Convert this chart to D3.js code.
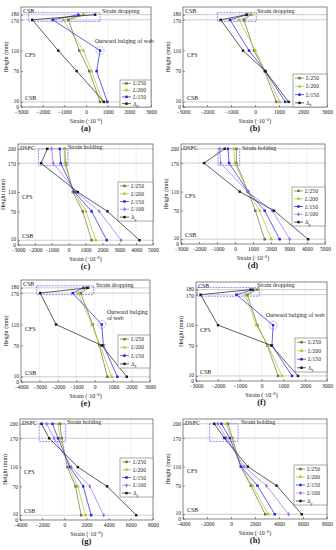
<!DOCTYPE html>
<html><head><meta charset="utf-8">
<script src="https://cdn.jsdelivr.net/npm/d3@7"></script>
<style>body{margin:0;background:#fff} text{font-family:"Liberation Serif","DejaVu Serif",serif;fill:#222}</style>
</head><body><svg id="c" width="336" height="550"></svg>
<script>
// ---------- data ----------
const heightsDrop = [10, 70, 110, 170, 180];
const heightsHold = [10, 70, 110, 170, 200];
const seriesDrop = ["L/250", "L/200", "L/150", "Δy"];
const seriesHold = ["L/250", "L/200", "L/150", "L/100", "Δy"];
const xTicksA = [-3000, -2000, -1000, 0, 1000, 2000, 3000];
const xTicksC = [-3000, -2000, -1000, 0, 1000, 2000, 3000, 4000, 5000];
const xTicksE = [-4000, -3000, -2000, -1000, 0, 1000, 2000, 3000];
const xTicksG = [-4000, -2000, 0, 2000, 4000, 6000, 8000];
const yTicksDrop = [0, 10, 70, 110, 170, 180];
const yTicksHold = [0, 10, 70, 110, 170, 200];

// strain values at heights (bottom -> top)
const a_L250 = [650, 150, -310, -815, -120];
const a_L200 = [770, 260, -120, -1050, -120];
const a_L150 = [985, 490, 650, -1540, -350];
const a_Dy   = [830, -430, -1280, -2480, 420];

const b_L250 = [890, 400, -40, -460, -180];
const b_L200 = [1030, 430, 15, -670, -125];
const b_L150 = [1260, 430, -250, -1040, -330];
const b_Dy   = [1400, 430, -500, -1430, -350];

const c_L250 = [1360, 840, 250, -175, -235];
const c_L200 = [1610, 1030, 310, -235, -270];
const c_L150 = [2260, 1360, 350, -470, -525];
const c_L100 = [3110, 1810, 450, -915, -1010];
const c_Dy   = [4200, 2300, 545, -1630, -1265];

const d_L250 = [1650, 1130, 720, 75, 75];
const d_L200 = [2020, 1370, 720, -20, -75];
const d_L150 = [2480, 1650, 720, -330, -390];
const d_L100 = [3040, 2070, 690, -800, -850];
const d_Dy   = [4060, 2170, 260, -1720, -575];

const e_L250 = [690, 250, -110, -760, -340];
const e_L200 = [920, 290, -160, -890, -470];
const e_L150 = [1230, 470, 380, -1190, -610];
const e_Dy   = [1740, 380, -2100, -2960, -400];

const f_L250 = [760, 270, -190, -650, -190];
const f_L200 = [940, 300, -240, -740, -280];
const f_L150 = [1400, 480, 530, -1150, -390];
const f_Dy   = [1670, 450, -1990, -2790, -500];

const g_L250 = [1520, 1010, 270, -240, -390];
const g_L200 = [1910, 1220, 420, -390, -570];
const g_L150 = [2420, 1700, 510, -570, -1070];
const g_L100 = [3550, 2300, 630, -925, -1600];
const g_Dy   = [6480, 3850, 1220, -1370, -2060];

const h_L250 = [2850, 1650, 800, 110, -250];
const h_L200 = [3100, 1800, 850, 30, -400];
const h_L150 = [3650, 2200, 850, -110, -800];
const h_L100 = [4800, 2950, 1100, -390, -1100];
const h_Dy   = [5900, 3800, 1400, -550, -1400];

// ---------- styles ----------
const colors = {"L/250":"#7d6a2c","L/200":"#9acd32","L/150":"#2020e8","L/100":"#a064f0","Δy":"#1a1a1a"};
const symbols = {"L/250":d3.symbolSquare,"L/200":d3.symbolTriangle,"L/150":d3.symbolSquare,"L/100":d3.symbolDiamond,"Δy":d3.symbolSquare};
const FONT = 6;
const TFONT = 5.5;

const panels = [
 {id:"a", x0:21, x1:151, y0:7, y1:107, xdom:[-3000,3000], ydom:[0,195], xt:xTicksA, yt:yTicksDrop, hs:heightsDrop, names:seriesDrop,
  vals:[a_L250,a_L200,a_L150,a_Dy], band:[170,180,10], top:"CSB", box:[-2650,650,167,184], ell:[650,110],
  leg:{x:120,y:80,w:31,h:27}, notes:[{t:"Strain dropping",dx:81,dy:6},{t:"Outward bulging of web",dx:74,dy:36}]},
 {id:"b", x0:183, x1:327, y0:7, y1:107, xdom:[-3000,3000], ydom:[0,195], xt:xTicksA, yt:yTicksDrop, hs:heightsDrop, names:seriesDrop,
  vals:[b_L250,b_L200,b_L150,b_Dy], band:[170,180,10], top:"CSB", box:[-1570,55,167,184], ell:null,
  leg:{x:293,y:74,w:34,h:33}, notes:[{t:"Strain dropping",dx:74,dy:6}]},
 {id:"c", x0:18, x1:153, y0:144, y1:245, xdom:[-3000,5000], ydom:[0,210], xt:xTicksC, yt:yTicksHold, hs:heightsHold, names:seriesHold,
  vals:[c_L250,c_L200,c_L150,c_L100,c_Dy], band:[170,200,10], top:"DSFC", box:[-1790,-40,165,200], ell:null,
  leg:{x:118,y:182,w:35,h:39}, notes:[{t:"Strain holding",dx:50,dy:5}]},
 {id:"d", x0:181, x1:325, y0:144, y1:244, xdom:[-3000,5000], ydom:[0,210], xt:xTicksC, yt:yTicksHold, hs:heightsHold, names:seriesHold,
  vals:[d_L250,d_L200,d_L150,d_L100,d_Dy], band:[170,200,10], top:"DSFC", box:[-940,260,165,200], ell:null,
  leg:{x:292,y:187,w:33,h:39}, notes:[{t:"Strain holding",dx:61,dy:6}]},
 {id:"e", x0:21, x1:150, y0:280, y1:382, xdom:[-4000,3000], ydom:[0,195], xt:xTicksE, yt:yTicksDrop, hs:heightsDrop, names:seriesDrop,
  vals:[e_L250,e_L200,e_L150,e_Dy], band:[170,180,10], top:"CSB", box:[-3150,-70,167,184], ell:[380,110],
  leg:{x:118,y:335,w:32,h:33}, notes:[{t:"Strain dropping",dx:75,dy:7},{t:"Outward bulging",dx:86,dy:34},{t:"of web",dx:86,dy:40}]},
 {id:"f", x0:196, x1:327, y0:282, y1:381, xdom:[-3000,3000], ydom:[0,195], xt:xTicksA, yt:yTicksDrop, hs:heightsDrop, names:seriesDrop,
  vals:[f_L250,f_L200,f_L150,f_Dy], band:[170,180,10], top:"CSB", box:[-2940,-100,167,184], ell:[530,110],
  leg:{x:295,y:338,w:32,h:34}, notes:[{t:"Strain dropping",dx:61,dy:5},{t:"Outward bulging of web",dx:70,dy:35}]},
 {id:"g", x0:20, x1:153, y0:419, y1:520, xdom:[-4000,8000], ydom:[0,210], xt:xTicksG, yt:yTicksHold, hs:heightsHold, names:seriesHold,
  vals:[g_L250,g_L200,g_L150,g_L100,g_Dy], band:[170,200,10], top:"DSFC", box:[-2270,120,163,200], ell:null,
  leg:{x:120,y:458,w:33,h:39}, notes:[{t:"Strain holding",dx:47,dy:5}]},
 {id:"h", x0:183, x1:327, y0:419, y1:519, xdom:[-4000,8000], ydom:[0,210], xt:xTicksG, yt:yTicksHold, hs:heightsHold, names:seriesHold,
  vals:[h_L250,h_L200,h_L150,h_L100,h_Dy], band:[170,200,10], top:"DSFC", box:[-1780,580,163,200], ell:null,
  leg:{x:294,y:465,w:33,h:40}, notes:[{t:"Strain holding",dx:58,dy:5}]}
];

// small label nudges so stacked tick labels (0/10, 170/180) stay legible
const yNudge = {0: 0, 10: -1.4, 170: 0.8, 180: -0.8};

const svg = d3.select("#c");

function legendLabel(sel, name) {
  if (name === "Δy") {
    sel.append("tspan").text("Δ");
    sel.append("tspan").attr("font-size", FONT*0.7).attr("dy", 1.5).text("y");
  } else {
    sel.append("tspan").attr("font-style","italic").text("L");
    sel.append("tspan").text(name.slice(1));
  }
}

panels.forEach(p => {
  const g = svg.append("g");
  const x = d3.scaleLinear().domain(p.xdom).range([p.x0, p.x1]);
  const y = d3.scaleLinear().domain(p.ydom).range([p.y1, p.y0]);

  // vertical dotted grid
  g.selectAll(".vg").data(p.xt.slice(1, -1)).join("line")
    .attr("x1", d => x(d)).attr("x2", d => x(d)).attr("y1", p.y0).attr("y2", p.y1)
    .attr("stroke", "#c8c8c8").attr("stroke-width", 0.5).attr("stroke-dasharray", "1,1");
  // band lines
  g.selectAll(".hb").data(p.band).join("line")
    .attr("x1", p.x0).attr("x2", p.x1).attr("y1", d => y(d)).attr("y2", d => y(d))
    .attr("stroke", "#9a9a9a").attr("stroke-width", 0.5);

  // axes
  const xa = d3.axisBottom(x).tickValues(p.xt).tickSizeInner(-2).tickSizeOuter(0).tickPadding(3.5).tickFormat(d3.format("d"));
  const gx = g.append("g").attr("transform", `translate(0,${p.y1})`).call(xa);
  gx.select(".domain").remove();
  gx.selectAll("line").attr("stroke", "#333").attr("stroke-width", 0.5);
  gx.selectAll("text").attr("font-size", TFONT).attr("fill", "#222").attr("font-family", "Liberation Serif");

  const ya = d3.axisLeft(y).tickValues(p.yt).tickSizeInner(-2).tickSizeOuter(0).tickPadding(2);
  const gy = g.append("g").attr("transform", `translate(${p.x0},0)`).call(ya);
  gy.select(".domain").remove();
  gy.selectAll("line").attr("stroke", "#333").attr("stroke-width", 0.5);
  gy.selectAll("text").attr("font-size", TFONT).attr("fill", "#222").attr("font-family", "Liberation Serif")
    .attr("y", d => yNudge[d] || 0);

  // frame
  g.append("rect").attr("x", p.x0).attr("y", p.y0).attr("width", p.x1 - p.x0).attr("height", p.y1 - p.y0)
    .attr("fill", "none").attr("stroke", "#333").attr("stroke-width", 0.6);

  // axis titles
  const xt = g.append("text").attr("x", (p.x0 + p.x1) / 2).attr("y", p.y1 + 15.5).attr("text-anchor", "middle").attr("font-size", FONT);
  xt.append("tspan").text("Strain (·10");
  xt.append("tspan").attr("font-size", FONT * 0.7).attr("dy", -2).text("−6");
  xt.append("tspan").attr("dy", 2).text(")");
  g.append("text").attr("transform", `translate(${p.x0 - 13},${(p.y0 + p.y1) / 2}) rotate(-90)`)
    .attr("text-anchor", "middle").attr("font-size", FONT).text("Height (mm)");
  g.append("text").attr("x", (p.x0 + p.x1) / 2).attr("y", p.y1 + 24).attr("text-anchor", "middle")
    .attr("font-size", 8.5).attr("font-weight", "bold").text(`(${p.id})`);

  // region labels
  g.append("text").attr("x", p.x0 + 2).attr("y", p.y0 + 5.5).attr("font-size", FONT).text(p.top);
  g.append("text").attr("x", p.x0 + 4).attr("y", y(110) + 6.5).attr("font-size", FONT).text("CFS");
  g.append("text").attr("x", p.x0 + 4).attr("y", y(10) - 2).attr("font-size", FONT).text("CSB");
  p.notes.forEach(n => g.append("text").attr("x", p.x0 + n.dx).attr("y", p.y0 + n.dy).attr("font-size", FONT).text(n.t));

  // dashed box
  const bx = p.box;
  g.append("rect").attr("x", x(bx[0])).attr("y", y(bx[3])).attr("width", x(bx[1]) - x(bx[0])).attr("height", y(bx[2]) - y(bx[3]))
    .attr("fill", "none").attr("stroke", "#6a5cff").attr("stroke-width", 0.7).attr("stroke-dasharray", "2,1");
  if (p.ell) {
    g.append("ellipse").attr("cx", x(p.ell[0])).attr("cy", y(p.ell[1])).attr("rx", 4).attr("ry", 4)
      .attr("fill", "none").attr("stroke", "#6a5cff").attr("stroke-width", 0.6).attr("stroke-dasharray", "1.5,1");
  }

  // series
  const line = d3.line().x(d => x(d[0])).y(d => y(d[1]));
  p.names.forEach((name, i) => {
    const pts = p.vals[i].map((v, k) => [v, p.hs[k]]);
    g.append("path").attr("d", line(pts)).attr("fill", "none").attr("stroke", colors[name]).attr("stroke-width", 0.7);
    g.selectAll(null).data(pts).join("path")
      .attr("transform", d => `translate(${x(d[0])},${y(d[1])})`)
      .attr("d", d3.symbol().type(symbols[name]).size(6))
      .attr("fill", colors[name]);
  });

  // legend
  const L = p.leg, n = p.names.length, rh = L.h / n;
  const lg = g.append("g");
  lg.append("rect").attr("x", L.x).attr("y", L.y).attr("width", L.w).attr("height", L.h)
    .attr("fill", "#fff").attr("stroke", "#555").attr("stroke-width", 0.5);
  p.names.forEach((name, i) => {
    const cy = L.y + (i + 0.5) * rh;
    lg.append("line").attr("x1", L.x + 2).attr("x2", L.x + 11).attr("y1", cy).attr("y2", cy)
      .attr("stroke", colors[name]).attr("stroke-width", 0.7);
    lg.append("path").attr("transform", `translate(${L.x + 6.5},${cy})`)
      .attr("d", d3.symbol().type(symbols[name]).size(6)).attr("fill", colors[name]);
    const t = lg.append("text").attr("x", L.x + 13).attr("y", cy + 2).attr("font-size", FONT * 0.92);
    legendLabel(t, name);
  });
});
</script></body></html>
